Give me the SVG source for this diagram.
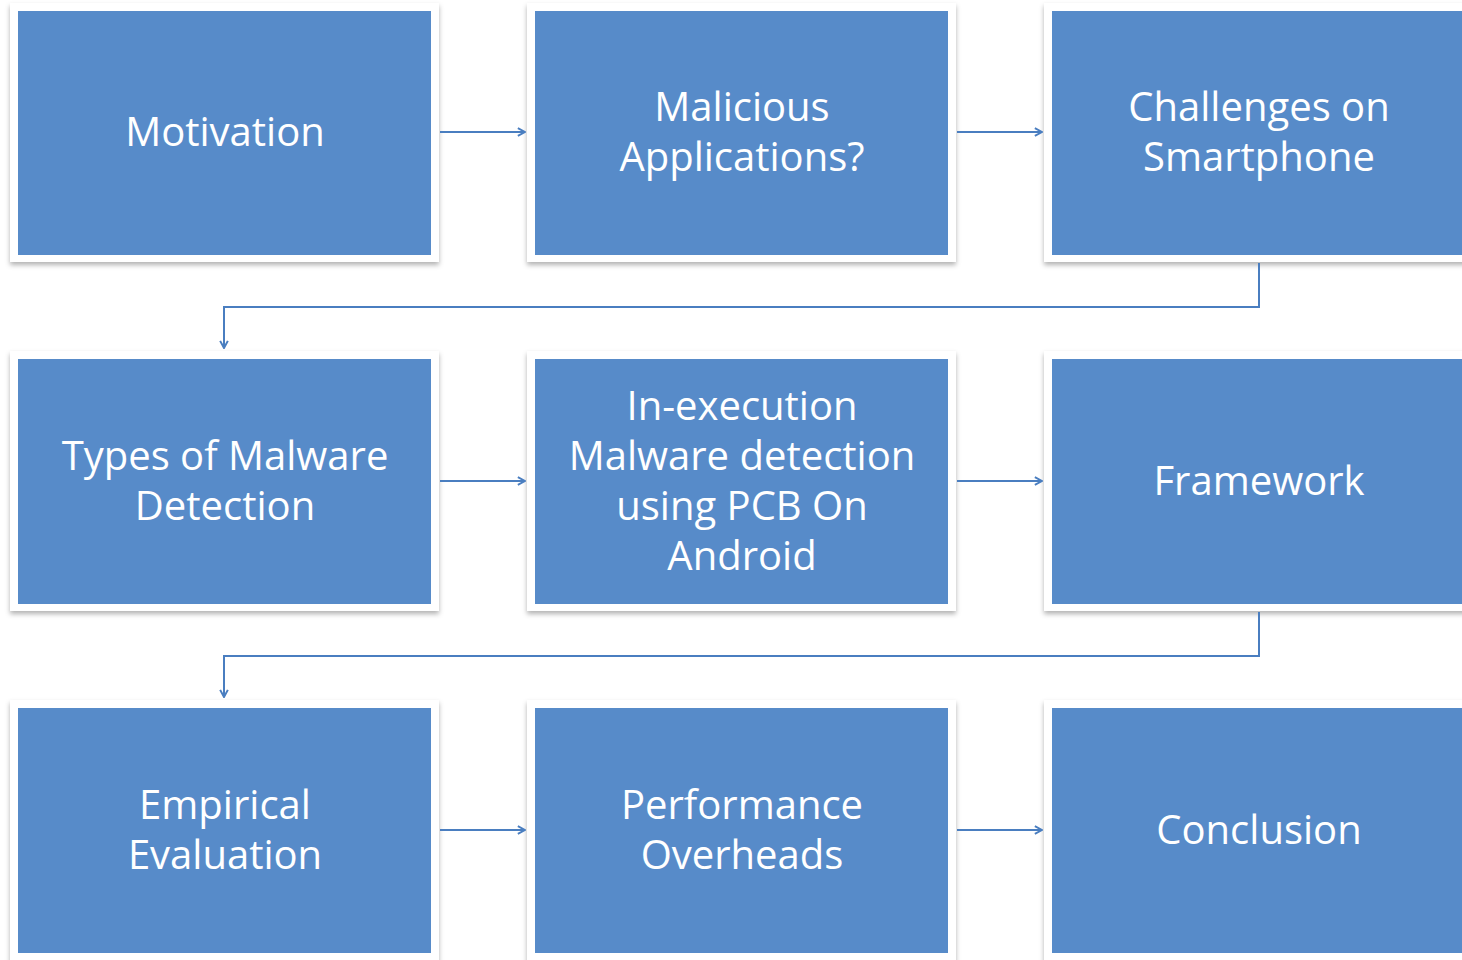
<svg xmlns="http://www.w3.org/2000/svg" width="1462" height="960" viewBox="0 0 1462 960">
<style>
.frame{fill:#ffffff;filter:url(#sh)}
.box{fill:#578BC9}
.t{font-family:"Open Sans","Liberation Sans",sans-serif;font-size:40px;fill:#ffffff;text-anchor:middle}
.c{fill:none;stroke:#4A7EC0;stroke-width:2;marker-end:url(#ah)}
</style>
<defs>
<filter id="sh" x="-5%" y="-5%" width="110%" height="115%">
<feDropShadow dx="0" dy="3" stdDeviation="2.5" flood-color="#000" flood-opacity="0.3"/>
</filter>
<marker id="ah" viewBox="0 0 10 10" refX="9" refY="5" markerWidth="11" markerHeight="11" orient="auto" markerUnits="userSpaceOnUse">
<path d="M2.5,1.5 L9,5 L2.5,8.5" fill="none" stroke="#4A7EC0" stroke-width="1.8"/>
</marker>
</defs>
<rect width="1462" height="960" fill="#ffffff"/>
<g id="n1"><rect class="frame" x="10" y="3" width="429" height="259"/><rect class="box" x="18" y="11" width="413" height="244"/><text class="t" x="225" y="146">Motivation</text></g>
<g id="n2"><rect class="frame" x="527" y="3" width="429" height="259"/><rect class="box" x="535" y="11" width="413" height="244"/><text class="t" x="742" y="121">Malicious</text><text class="t" x="742" y="171">Applications?</text></g>
<g id="n3"><rect class="frame" x="1044" y="3" width="429" height="259"/><rect class="box" x="1052" y="11" width="413" height="244"/><text class="t" x="1259" y="121">Challenges on</text><text class="t" x="1259" y="171">Smartphone</text></g>
<g id="n4"><rect class="frame" x="10" y="351" width="429" height="260"/><rect class="box" x="18" y="359" width="413" height="245"/><text class="t" x="225" y="470">Types of Malware</text><text class="t" x="225" y="520">Detection</text></g>
<g id="n5"><rect class="frame" x="527" y="351" width="429" height="260"/><rect class="box" x="535" y="359" width="413" height="245"/><text class="t" x="742" y="420">In-execution</text><text class="t" x="742" y="470">Malware detection</text><text class="t" x="742" y="520">using PCB On</text><text class="t" x="742" y="570">Android</text></g>
<g id="n6"><rect class="frame" x="1044" y="351" width="429" height="260"/><rect class="box" x="1052" y="359" width="413" height="245"/><text class="t" x="1259" y="495">Framework</text></g>
<g id="n7"><rect class="frame" x="10" y="700" width="429" height="270"/><rect class="box" x="18" y="708" width="413" height="245"/><text class="t" x="225" y="819">Empirical</text><text class="t" x="225" y="869">Evaluation</text></g>
<g id="n8"><rect class="frame" x="527" y="700" width="429" height="270"/><rect class="box" x="535" y="708" width="413" height="245"/><text class="t" x="742" y="819">Performance</text><text class="t" x="742" y="869">Overheads</text></g>
<g id="n9"><rect class="frame" x="1044" y="700" width="429" height="270"/><rect class="box" x="1052" y="708" width="413" height="245"/><text class="t" x="1259" y="844">Conclusion</text></g>
<g id="connectors">
<path class="c" d="M440,132 H525"/>
<path class="c" d="M957,132 H1042"/>
<path class="c" d="M1259,263 V307 H224 V348"/>
<path class="c" d="M440,481 H525"/>
<path class="c" d="M957,481 H1042"/>
<path class="c" d="M1259,612 V656 H224 V697"/>
<path class="c" d="M440,830 H525"/>
<path class="c" d="M957,830 H1042"/>
</g>
</svg>
